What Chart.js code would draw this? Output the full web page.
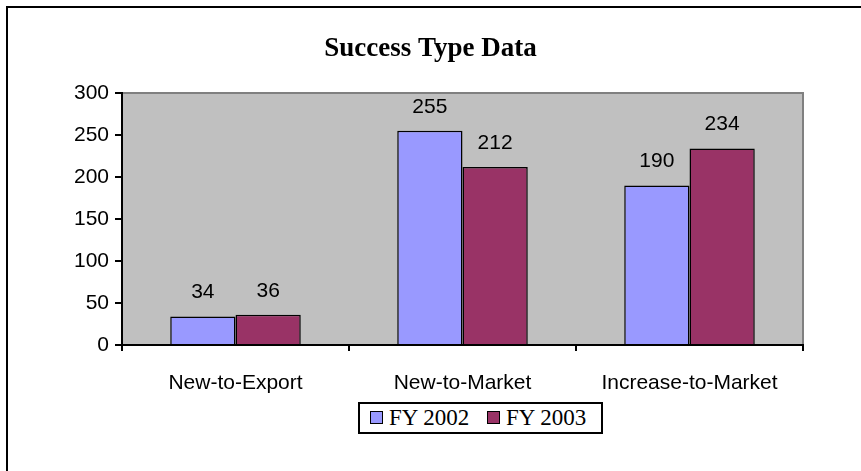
<!DOCTYPE html>
<html lang="en">
<head>
<meta charset="UTF-8">
<title>Success Type Data</title>
<script src="https://cdn.jsdelivr.net/npm/chart.js@4"></script>
<style>
    html, body { margin: 0; padding: 0; background: #fff; }
    #wrap { position: relative; width: 861px; height: 471px; overflow: hidden; }
    #frame { position: absolute; left: 6px; top: 6px; width: 900px; height: 500px;
             border-left: 2px solid #000; border-top: 2px solid #000; }
    #legend { position: absolute; left: 358px; top: 402px; width: 241px; height: 28px;
              border: 2px solid #000; font-family: "Liberation Serif", "Times New Roman", serif;
              font-size: 23px; line-height: 28px; white-space: nowrap; background: #fff; }
    .item { position: absolute; top: 0; }
    .swatch { display: inline-block; width: 11px; height: 11px; border: 1px solid #000;
              margin-right: 6px; vertical-align: 1px; }
</style>
</head>
<body>
<div id="wrap">
    <div id="frame"></div>
    <canvas id="chart" width="861" height="471"></canvas>
    <div id="legend"></div>
</div>
<script>
const categories = ['New-to-Export', 'New-to-Market', 'Increase-to-Market'];
const fy2002 = [34, 255, 190];
const fy2003 = [36, 212, 234];
const seriesNames = ['FY 2002', 'FY 2003'];
const seriesColors = ['#9999FF', '#993366'];
const yTicks = [0, 50, 100, 150, 200, 250, 300];

const sansFont = '"Liberation Sans", Arial, sans-serif';

// plot background + top/right gray edge
const plotBackground = {
    id: 'plotBackground',
    beforeDraw(chart) {
        const { ctx, chartArea: a } = chart;
        ctx.save();
        ctx.fillStyle = '#C0C0C0';
        ctx.fillRect(a.left, a.top, a.right - a.left, a.bottom - a.top);
        ctx.strokeStyle = '#808080';
        ctx.lineWidth = 2;
        ctx.beginPath();
        ctx.moveTo(a.left, a.top);
        ctx.lineTo(a.right, a.top);
        ctx.lineTo(a.right, a.bottom);
        ctx.stroke();
        ctx.restore();
    }
};

// value labels above bars
const valueLabels = {
    id: 'valueLabels',
    afterDatasetsDraw(chart) {
        const ctx = chart.ctx;
        ctx.save();
        ctx.font = '21px ' + sansFont;
        ctx.fillStyle = '#000';
        ctx.textAlign = 'center';
        ctx.textBaseline = 'middle';
        chart.data.datasets.forEach((ds, i) => {
            chart.getDatasetMeta(i).data.forEach((bar, j) => {
                ctx.fillText(String(ds.data[j]), bar.x, bar.y - 24);
            });
        });
        ctx.restore();
    }
};

const chart = new Chart(document.getElementById('chart'), {
    type: 'bar',
    data: {
        labels: categories,
        datasets: [
            { label: seriesNames[0], data: fy2002, backgroundColor: seriesColors[0] },
            { label: seriesNames[1], data: fy2003, backgroundColor: seriesColors[1] }
        ]
    },
    options: {
        responsive: false,
        animation: false,
        layout: { padding: 0 },
        datasets: {
            bar: {
                borderColor: '#000',
                borderWidth: 1.5,
                borderSkipped: 'bottom',
                categoryPercentage: 0.575,
                barPercentage: 1
            }
        },
        plugins: {
            legend: { display: false },
            tooltip: { enabled: false },
            title: {
                display: true,
                text: 'Success Type Data',
                color: '#000',
                font: { family: '"Liberation Serif", "Times New Roman", serif', size: 27, weight: 'bold', lineHeight: 1 },
                padding: { top: 36, bottom: 30 }
            }
        },
        scales: {
            x: {
                afterFit(scale) { scale.height = 126; },
                grid: { drawOnChartArea: false, offset: true, tickLength: 6, color: '#000', lineWidth: 2 },
                border: { color: '#000', width: 2 },
                ticks: {
                    color: '#000',
                    padding: 20,
                    font: { family: sansFont, size: 21 }
                }
            },
            y: {
                min: 0,
                max: 300,
                afterFit(scale) { scale.width = 122; },
                afterBuildTicks(scale) { scale.ticks = yTicks.map(v => ({ value: v })); },
                grid: { drawOnChartArea: false, tickLength: 7, color: '#000', lineWidth: 2 },
                border: { color: '#000', width: 2 },
                ticks: {
                    color: '#000',
                    padding: 6,
                    font: { family: sansFont, size: 21 }
                }
            },
            // empty right-hand axis, keeps the title centred on the full width
            yRight: {
                position: 'right',
                afterFit(scale) { scale.width = 58; },
                grid: { display: false },
                border: { display: false },
                ticks: { display: false }
            }
        }
    },
    plugins: [plotBackground, valueLabels]
});

// legend box built from the series
const legend = document.getElementById('legend');
const itemLeft = [10, 127];
seriesNames.forEach((name, i) => {
    const item = document.createElement('span');
    item.className = 'item';
    item.style.left = itemLeft[i] + 'px';
    const sw = document.createElement('span');
    sw.className = 'swatch';
    sw.style.background = seriesColors[i];
    item.appendChild(sw);
    item.appendChild(document.createTextNode(name));
    legend.appendChild(item);
});
</script>
</body>
</html>
